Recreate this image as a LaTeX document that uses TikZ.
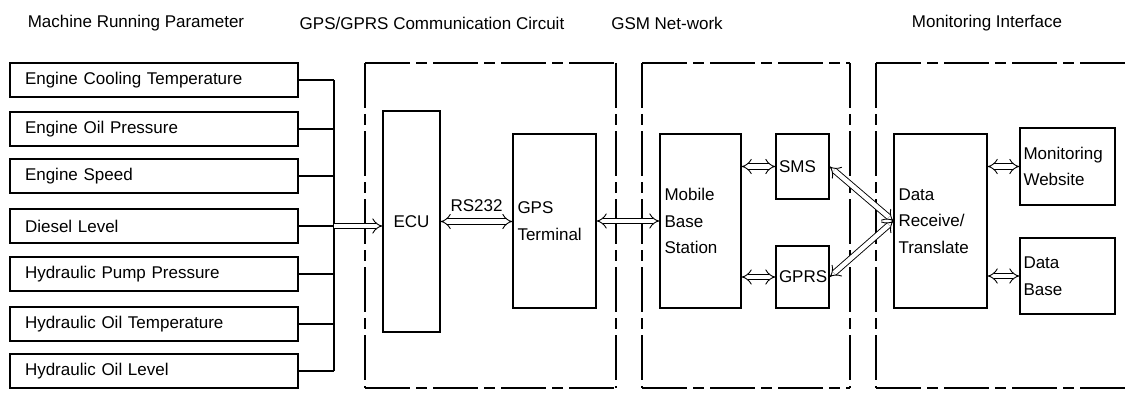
\documentclass[tikz,border=0pt]{standalone}
\usepackage{fontspec}
\setmainfont{Liberation Sans}
\usetikzlibrary{arrows.meta}
\begin{document}
\begin{tikzpicture}[x=1pt,y=-1pt,
  every node/.style={font=\fontsize{17}{26.5}\selectfont},
  box/.style={draw,line width=1.2pt,rectangle,inner sep=0pt},
  parbox/.style={box,minimum height=34pt,text width=258pt,inner xsep=15pt,align=left},
  frame/.style={line width=1.2pt,dash pattern=on 45pt off 6pt on 11pt off 6pt},
  conn/.style={line width=1.2pt},
  dbl/.style={double,double distance=4.5pt,line width=0.9pt},
  tip/.tip={Implies[scale=1.3]},
  title/.style={inner sep=0pt}]
\useasboundingbox (0,0) rectangle (1126,393);
% titles
\node[title] (t1) at (136,23) {Machine Running Parameter};
\node[title] (t2) at (432,23) {GPS/GPRS Communication Circuit};
\node[title] (t3) at (667,23) {GSM Net-work};
\node[title] (t4) at (987,23) {Monitoring Interface};
% frames
\draw[frame] (365,63) -- (616,63);
\draw[frame] (365,63) -- (365,388);
\draw[frame] (616,63) -- (616,388);
\draw[frame] (365,388) -- (616,388);
\draw[frame] (642,63) -- (850,63);
\draw[frame] (642,63) -- (642,388);
\draw[frame] (850,63) -- (850,388);
\draw[frame] (642,388) -- (850,388);
\draw[frame] (876,63) -- (1140,63);
\draw[frame] (876,63) -- (876,388);
\draw[frame] (876,388) -- (1140,388);
% parameter boxes
\node[parbox] (b1) at (154,80) {Engine Cooling Temperature};
\node[parbox] (b2) at (154,129) {Engine Oil Pressure};
\node[parbox] (b3) at (154,176) {Engine Speed};
\node[parbox] (b4) at (154,226) {Diesel Level};
\node[parbox] (b5) at (154,274) {Hydraulic Pump Pressure};
\node[parbox] (b6) at (154,324) {Hydraulic Oil Temperature};
\node[parbox] (b7) at (154,371) {Hydraulic Oil Level};
\coordinate (busx) at (334,0);
\foreach \i in {1,...,7}{\draw[conn] (b\i.east) -- (b\i.east -| busx);}
\draw[conn] (b1.east -| busx) -- (b7.east -| busx);
% blocks
\node[box,minimum width=57pt,minimum height=221pt] (ecu) at (411.5,221.5) {ECU};
\node[box,minimum width=83pt,minimum height=174pt,text width=74pt,align=left] (gps) at (554.5,221) {GPS\\Terminal};
\node[box,minimum width=81pt,minimum height=174pt,text width=72pt,align=left] (mbs) at (700.5,221) {Mobile\\Base\\Station};
\node[box,minimum width=53pt,minimum height=65pt,text width=47pt,align=left] (sms) at (802.5,166.5) {SMS};
\node[box,minimum width=53pt,minimum height=62pt,text width=47pt,align=left] (gprs) at (802.5,277) {GPRS};
\node[box,minimum width=93pt,minimum height=174pt,text width=84pt,align=left] (drt) at (940.5,221) {Data\\Receive/\\Translate};
\node[box,minimum width=95pt,minimum height=77pt,text width=88pt,align=left] (mw) at (1067.5,166.5) {Monitoring\\Website};
\node[box,minimum width=95pt,minimum height=76pt,text width=88pt,align=left] (db) at (1067.5,276) {Data\\Base};
% connectors
\draw[dbl,-tip] (b4.east -| busx) -- (b4.east -| ecu.west);
\draw[dbl,tip-tip] (ecu.east) -- (ecu.east -| gps.west) node[midway,above=9pt,inner sep=0pt] (rs) {RS232};
\draw[dbl,tip-tip] (gps.east) -- (gps.east -| mbs.west);
\draw[dbl,tip-tip] (sms.west -| mbs.east) -- (sms.west);
\draw[dbl,tip-tip] (gprs.west -| mbs.east) -- (gprs.west);
\draw[dbl,tip-tip] (sms.east) -- (drt.west);
\draw[dbl,tip-tip] (gprs.east) -- (drt.west);
\draw[dbl,tip-tip] (mw.west -| drt.east) -- (mw.west);
\draw[dbl,tip-tip] (db.west -| drt.east) -- (db.west);
\end{tikzpicture}
\end{document}
